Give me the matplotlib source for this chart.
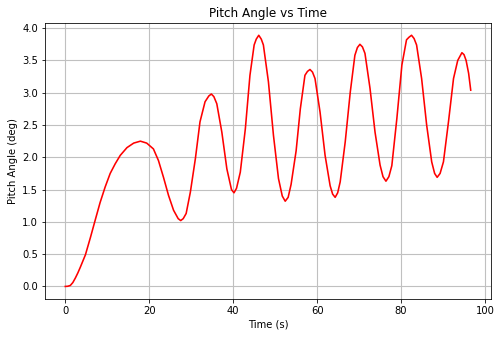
import numpy as np
import matplotlib
matplotlib.use("Agg")
import matplotlib.pyplot as plt

# values
time_s = [0, 0.6, 1.2, 1.8, 2.4, 3.0, 3.6, 4.8, 6.0, 7.1, 8.3, 9.5, 10.7, 11.9, 13.1, 14.7, 16.3,
          17.9, 19.4, 21.0, 22.2, 23.4, 24.6, 25.8, 26.9, 27.5, 28.1, 28.8, 29.8,
          31.0, 32.1, 33.3, 34.2, 34.8, 35.4, 36.1, 37.3, 38.5, 39.6, 40.2, 40.8,
          41.7, 42.9, 44.0, 45.0, 45.5, 46.1, 46.7, 47.2, 48.4, 49.6, 50.8, 51.7,
          52.4, 53.1, 53.8, 55.0, 56.0, 57.1, 57.7, 58.3, 58.9, 59.5, 60.7, 61.9,
          63.1, 63.7, 64.3, 64.9, 65.5, 66.7, 67.9, 69.0, 69.6, 70.2, 70.8, 71.4,
          72.6, 73.8, 75.0, 75.7, 76.4, 77.1, 77.8, 79.0, 80.2, 81.3, 81.9, 82.5,
          83.1, 83.7, 84.9, 86.1, 87.3, 88.0, 88.6, 89.3, 90.1, 91.3, 92.5, 93.5,
          94.5, 95.0, 95.5, 96.1, 96.6]
pitch_deg = [0, 0.003, 0.015, 0.06, 0.13, 0.21, 0.30, 0.49, 0.76, 1.02, 1.30, 1.54, 1.75, 1.90, 2.03, 2.15, 2.22,
             2.25, 2.22, 2.13, 1.95, 1.69, 1.41, 1.18, 1.05, 1.02, 1.05, 1.13, 1.46,
             1.98, 2.55, 2.86, 2.95, 2.98, 2.94, 2.83, 2.39, 1.82, 1.50, 1.45, 1.52,
             1.77, 2.44, 3.27, 3.74, 3.83, 3.89, 3.83, 3.74, 3.17, 2.34, 1.67, 1.40,
             1.32, 1.38, 1.58, 2.10, 2.75, 3.27, 3.33, 3.36, 3.32, 3.22, 2.70, 2.03,
             1.56, 1.43, 1.38, 1.45, 1.62, 2.24, 3.01, 3.58, 3.70, 3.75, 3.71, 3.61,
             3.07, 2.39, 1.88, 1.70, 1.63, 1.70, 1.87, 2.60, 3.43, 3.82, 3.86, 3.89,
             3.84, 3.74, 3.22, 2.50, 1.93, 1.75, 1.69, 1.75, 1.93, 2.55, 3.22, 3.50,
             3.62, 3.59, 3.50, 3.30, 3.04]

fig = plt.figure(figsize=(500/72, 339/72), dpi=72)
plt.plot(time_s, pitch_deg, color='red', linewidth=1.6)
plt.xlabel("Time (s)")
plt.ylabel("Pitch Angle (deg)")
plt.title("Pitch Angle vs Time")
plt.grid(True, color='#c0c0c0', linewidth=1.1)
plt.subplots_adjust(left=0.09, right=0.982, bottom=0.118, top=0.933)
plt.savefig("out.png", dpi=72)
